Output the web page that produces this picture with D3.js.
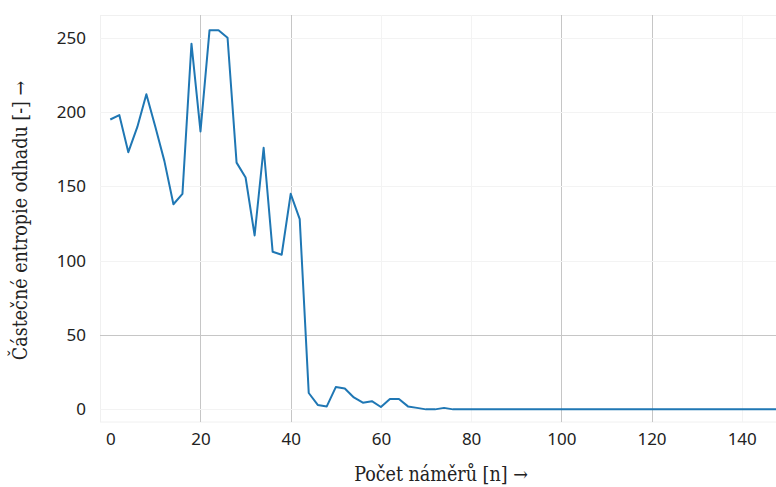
<!DOCTYPE html>
<html>
<head>
<meta charset="utf-8">
<script src="https://cdn.jsdelivr.net/npm/d3@7"></script>
<style>
  body { margin: 0; background: #fff; }
  .tick text { font-family: "Noto Sans", sans-serif; font-size: 17px; fill: #222; }
  .title { font-family: "DejaVu Serif Condensed", "DejaVu Serif", serif; font-size: 19.5px; fill: #222; }
</style>
</head>
<body>
<div id="chart"></div>
<script>
// sample count n and estimated partial entropy
const counts = [0, 2, 4, 6, 8, 10, 12, 14, 16, 18, 20, 22, 24, 26, 28, 30, 32, 34, 36, 38,
  40, 42, 44, 46, 48, 50, 52, 54, 56, 58, 60, 62, 64, 66, 68, 70, 72, 74, 76, 78,
  80, 90, 100, 110, 120, 130, 140, 150, 160];
const entropy = [195, 198, 173, 190, 212, 190, 167, 138, 145, 246, 187, 255, 255, 250, 166, 156, 117, 176, 106, 104,
  145, 128, 11, 3, 2, 15, 14, 8, 4.5, 5.5, 1.6, 7, 7, 2, 1, 0, 0, 1, 0, 0,
  0, 0, 0, 0, 0, 0, 0, 0, 0];
const xTicks = [0, 20, 40, 60, 80, 100, 120, 140];
const yTicks = [0, 50, 100, 150, 200, 250];
const xStrong = [20, 40, 100, 120];
const yStrong = [50];

const data = counts.map((n, i) => ({n: n, v: entropy[i]}));

const margin = {top: 15, right: 0, bottom: 65, left: 100};
const width = 776 - margin.left - margin.right;
const height = 487 - margin.top - margin.bottom;

const svg = d3.select("#chart")
    .append("svg")
    .attr("width", 776)
    .attr("height", 487)
    .append("g")
    .attr("transform", `translate(${margin.left}, ${margin.top})`);

const x = d3.scaleLinear()
    .domain([-2.28, 147.6])
    .range([0, width]);

const y = d3.scaleLinear()
    .domain([-8.5, 265.3])
    .range([height, 0]);

// faint frame
svg.append("rect")
    .attr("x", 0.5).attr("y", 0.5)
    .attr("width", width).attr("height", height - 0.5)
    .attr("fill", "none")
    .attr("stroke", "#f0f0f0");

// grid
svg.selectAll(".vgrid")
    .data(xTicks.filter(d => d !== 0))
    .join("line")
    .attr("x1", d => Math.round(x(d)) + 0.5).attr("x2", d => Math.round(x(d)) + 0.5)
    .attr("y1", 0).attr("y2", height)
    .attr("stroke", d => xStrong.includes(d) ? "#c6c6c6" : "#f3f3f3");

svg.selectAll(".hgrid")
    .data(yTicks)
    .join("line")
    .attr("y1", d => Math.round(y(d)) + 0.5).attr("y2", d => Math.round(y(d)) + 0.5)
    .attr("x1", 0).attr("x2", width)
    .attr("stroke", d => yStrong.includes(d) ? "#c6c6c6" : "#f3f3f3");

// axes
svg.append("g")
    .attr("transform", `translate(0, ${height})`)
    .call(d3.axisBottom(x).tickValues(xTicks).tickSize(0).tickPadding(11))
    .select(".domain").remove();

svg.append("g")
    .call(d3.axisLeft(y).tickValues(yTicks).tickSize(0).tickPadding(14))
    .select(".domain").remove();

svg.append("clipPath").attr("id", "clip")
    .append("rect").attr("width", width).attr("height", height);

const line = d3.line()
    .x(d => x(d.n))
    .y(d => y(d.v));

svg.append("path")
    .datum(data)
    .attr("clip-path", "url(#clip)")
    .attr("fill", "none")
    .attr("stroke", "#1f77b4")
    .attr("stroke-width", 2)
    .attr("stroke-linejoin", "round")
    .attr("d", line);

// axis titles
svg.append("text")
    .attr("class", "title")
    .attr("text-anchor", "middle")
    .attr("x", width / 2 + 3)
    .attr("y", height + 59)
    .text("Počet náměrů [n] →");

svg.append("text")
    .attr("class", "title")
    .attr("text-anchor", "middle")
    .attr("transform", `translate(${-73}, ${height / 2 + 2}) rotate(-90)`)
    .text("Částečné entropie odhadu [-] →");
</script>
</body>
</html>
